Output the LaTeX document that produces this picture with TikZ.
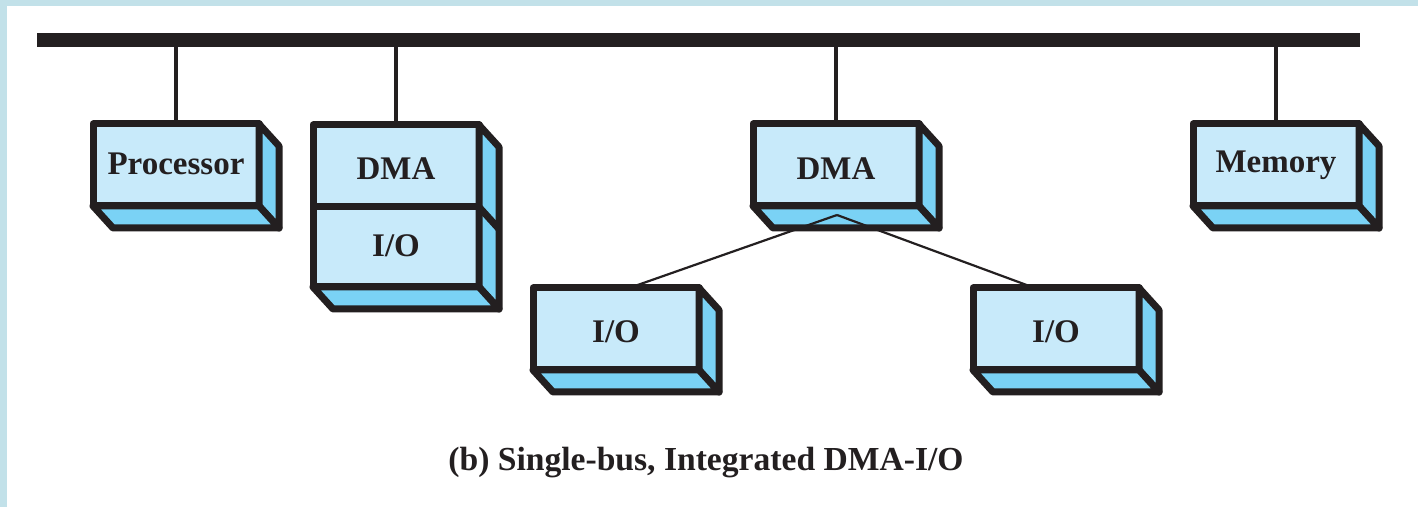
\documentclass[tikz,border=0pt]{standalone}
\usepackage{fontspec}
\setmainfont{Liberation Serif}
\usetikzlibrary{calc}

\definecolor{framebg}{RGB}{194,225,233}
\definecolor{frontface}{RGB}{200,234,250}
\definecolor{sideface}{RGB}{122,210,245}
\definecolor{ink}{RGB}{35,31,32}

\tikzset{
  unitbox/.style={draw=ink, fill=frontface, line width=3.5pt, line join=round,
    minimum width=83pt, minimum height=41pt, inner sep=0pt, outer sep=0pt,
    text height=11.5pt, text depth=3.5pt,
    font=\fontsize{16.5}{20}\selectfont\bfseries, text=ink},
  face/.style={draw=ink, fill=sideface, line width=3.5pt, line join=round},
  stub/.style={draw=ink, line width=2pt},
  link/.style={draw=ink, line width=1.1pt},
  busline/.style={draw=ink, line width=7pt},
}

% label set a little below the box centre
\newcommand{\lowlabel}[2]{\raisebox{-#1}{#2}}

% side and bottom faces of an extruded box (offset 20,22)
\newcommand{\boxdepth}[1]{%
  \path[face] (#1.north east) -- ++(20,22) -- ($(#1.south east)+(20,22)$) -- (#1.south east) -- cycle;
  \path[face] (#1.south west) -- (#1.south east) -- ++(20,22) -- ($(#1.south west)+(20,22)$) -- cycle;
}

\begin{document}
\begin{tikzpicture}[x=0.5pt,y=-0.5pt]
  \useasboundingbox (0,0) rectangle (1418,507);
  \fill[framebg] (0,0) rectangle (1418,507);
  \fill[white] (7,6) rectangle (1418,507);

  % system bus
  \coordinate (busL) at (37,40);
  \coordinate (busR) at (1360,40);
  \draw[busline] (busL) -- (busR);

  % units on the bus
  \node[unitbox] (proc) at (176,165) {\lowlabel{1pt}{Processor}};
  \boxdepth{proc}

  \node[unitbox, minimum height=40pt] (io0) at (396,247) {\lowlabel{1pt}{I/O}};
  \node[unitbox] (dma1) at (396,166) {\lowlabel{3pt}{DMA}};
  \path[face] (dma1.north east) -- ++(20,22) -- ($(io0.south east)+(20,22)$) -- (io0.south east) -- cycle;
  \path[face] (io0.south west) -- (io0.south east) -- ++(20,22) -- ($(io0.south west)+(20,22)$) -- cycle;
  \draw[ink, line width=3.5pt] (dma1.south east) -- ++(20,22);

  \node[unitbox] (dma2) at (836,165) {\lowlabel{3.5pt}{DMA}};
  \boxdepth{dma2}

  \node[unitbox] (mem) at (1276,165) {Memory};
  \boxdepth{mem}

  % I/O modules behind the second DMA
  \node[unitbox] (io1) at (616,329) {\lowlabel{2.5pt}{I/O}};
  \boxdepth{io1}
  \node[unitbox] (io2) at (1056,329) {\lowlabel{2.5pt}{I/O}};
  \boxdepth{io2}

  % bus taps
  \draw[stub] (proc.north) -- (proc.north |- busL);
  \draw[stub] (dma1.north) -- (dma1.north |- busL);
  \draw[stub] (dma2.north) -- (dma2.north |- busL);
  \draw[stub] (mem.north) -- (mem.north |- busL);

  % DMA to I/O links
  \coordinate (apex) at (837,215);
  \coordinate (t1) at (632,287);
  \coordinate (t2) at (1032,287);
  \draw[link] (apex) -- (t1);
  \draw[link] (apex) -- (t2);

  \node[font=\fontsize{16.8}{20}\selectfont\bfseries, text=ink] (cap) at (706,463)
    {(b) Single-bus, Integrated DMA-I/O};
\end{tikzpicture}
\end{document}
